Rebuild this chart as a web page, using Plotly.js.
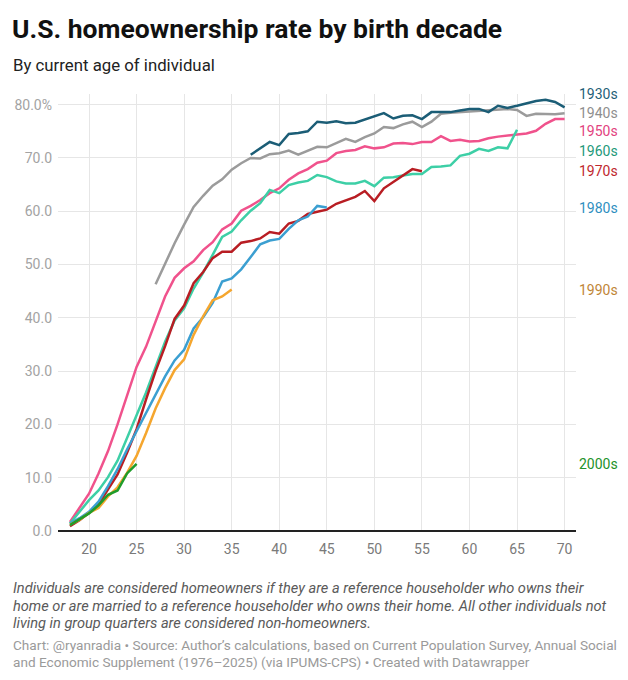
<!DOCTYPE html>
<html>
<head>
<meta charset="utf-8">
<script src="https://cdn.plot.ly/plotly-3.0.1.min.js"></script>
<style>
  html, body { margin: 0; padding: 0; background: #fff; }
  #chart { width: 628px; height: 680px; }
</style>
</head>
<body>
<div id="chart"></div>
<script>
// ---- Data ----
const seriesNames = ["1930s", "1940s", "1950s", "1960s", "1970s", "1980s", "1990s", "2000s"];
const startAge = { "1930s": 37, "1940s": 27, "1950s": 18, "1960s": 18, "1970s": 18, "1980s": 18, "1990s": 18, "2000s": 18 };

const rate1930s = [70.6, 71.8, 73.0, 72.4, 74.5, 74.7, 75.0, 76.8, 76.6, 76.9, 76.5, 76.6, 77.2, 77.9, 78.4, 77.4, 77.9, 78.0, 77.3, 78.6, 78.6, 78.6, 78.9, 79.2, 79.2, 78.6, 79.8, 79.4, 79.8, 80.2, 80.7, 80.9, 80.5, 79.5];
const rate1940s = [46.3, 50.3, 54.0, 57.5, 60.8, 62.9, 64.8, 66.0, 67.8, 69.0, 70.0, 69.9, 70.7, 70.9, 71.4, 70.6, 71.4, 72.1, 72.0, 72.8, 73.6, 73.0, 73.9, 74.6, 75.8, 75.6, 76.3, 76.8, 75.8, 76.8, 78.3, 78.5, 78.6, 78.8, 78.9, 79.0, 79.1, 79.2, 79.0, 77.9, 78.3, 78.2, 78.2, 78.4];
const rate1950s = [1.7, 4.3, 7.0, 10.8, 15.0, 20.0, 25.5, 30.8, 34.6, 39.5, 44.0, 47.5, 49.3, 50.6, 52.7, 54.2, 56.6, 57.7, 60.1, 61.0, 62.1, 63.4, 64.3, 65.9, 67.1, 67.9, 69.1, 69.5, 70.9, 71.3, 71.5, 72.2, 71.8, 72.0, 72.7, 72.8, 72.6, 73.0, 73.0, 74.1, 73.2, 73.4, 73.1, 73.2, 73.7, 74.0, 74.2, 74.3, 74.6, 75.1, 76.4, 77.3, 77.3];
const rate1960s = [1.4, 3.6, 5.8, 7.6, 10.1, 13.2, 17.6, 21.7, 26.0, 30.8, 35.5, 39.5, 41.8, 45.5, 48.5, 51.8, 55.2, 56.2, 58.3, 60.1, 61.5, 64.0, 63.4, 64.9, 65.4, 65.7, 66.8, 66.4, 65.6, 65.2, 65.2, 65.7, 64.7, 66.3, 66.4, 66.7, 67.0, 67.0, 68.3, 68.4, 68.6, 70.4, 70.8, 71.7, 71.3, 72.0, 71.8, 75.3];
const rate1970s = [0.9, 2.0, 3.4, 5.0, 7.8, 10.6, 14.7, 19.1, 24.7, 30.0, 34.7, 39.8, 42.3, 46.5, 48.6, 51.2, 52.4, 52.4, 54.1, 54.4, 54.9, 56.1, 55.8, 57.7, 58.2, 59.5, 59.9, 60.3, 61.4, 62.1, 62.7, 63.8, 61.9, 64.3, 65.5, 66.6, 67.9, 67.5];
const rate1980s = [1.4, 2.4, 3.6, 5.5, 8.4, 11.6, 15.3, 18.8, 22.0, 25.6, 29.0, 32.0, 34.0, 38.0, 40.1, 42.8, 46.8, 47.4, 49.1, 51.4, 53.8, 54.5, 54.8, 56.7, 58.3, 59.0, 61.0, 60.7];
const rate1990s = [1.2, 2.1, 3.4, 4.3, 6.5, 8.2, 10.9, 14.1, 18.4, 23.0, 26.8, 30.2, 32.2, 36.8, 40.3, 43.3, 44.0, 45.3];
const rate2000s = [1.1, 2.2, 3.3, 4.8, 6.8, 7.6, 10.8, 12.6];

const xTickVals = [20, 25, 30, 35, 40, 45, 50, 55, 60, 65, 70];
const yTickVals = [0, 10, 20, 30, 40, 50, 60, 70, 80];
const yTickText = ["0.0", "10.0", "20.0", "30.0", "40.0", "50.0", "60.0", "70.0", "80.0%"];

const titleText = "U.S. homeownership rate by birth decade";
const subtitleText = "By current age of individual";
const noteLines = [
  "Individuals are considered homeowners if they are a reference householder who owns their",
  "home or are married to a reference householder who owns their home. All other individuals not",
  "living in group quarters are considered non-homeowners."
];
const creditLines = [
  "Chart: @ryanradia • Source: Author’s calculations, based on Current Population Survey, Annual Social",
  "and Economic Supplement (1976–2025) (via IPUMS-CPS) • Created with Datawrapper"
];

// ---- Styles ----
const rates = { "1930s": rate1930s, "1940s": rate1940s, "1950s": rate1950s, "1960s": rate1960s,
                "1970s": rate1970s, "1980s": rate1980s, "1990s": rate1990s, "2000s": rate2000s };
const lineColor = { "1930s": "#1b5d76", "1940s": "#9b9b9b", "1950s": "#f0528c", "1960s": "#3dcfa6",
                    "1970s": "#b81d23", "1980s": "#3b9fd1", "1990s": "#f5a62e", "2000s": "#1f9c2a" };
const labelColor = { "1930s": "#1f5f78", "1940s": "#8e8e8e", "1950s": "#e2427e", "1960s": "#23997a",
                     "1970s": "#c0282e", "1980s": "#2f8fbf", "1990s": "#bf8638", "2000s": "#23922b" };
// label vertical positions (in axis units, de-overlapped like the reference)
const labelPos = { "1930s": 82.0, "1940s": 78.5, "1950s": 75.1, "1960s": 71.3,
                   "1970s": 67.6, "1980s": 60.7, "1990s": 45.2, "2000s": 12.6 };

const drawOrder = ["1940s", "1930s", "1950s", "1960s", "1970s", "1980s", "1990s", "2000s"];

const traces = drawOrder.map(name => {
  const ys = rates[name];
  const xs = ys.map((_, i) => startAge[name] + i);
  return {
    type: "scatter", mode: "lines", name: name,
    x: xs, y: ys,
    line: { color: lineColor[name], width: 2.5 },
    hoverinfo: "skip", cliponaxis: false
  };
});

// pixel helpers for text placed outside the plot area
const L = 58, R = 576, T = 94, B = 531;
const px = v => (v - L) / (R - L);
const py = v => (B - v) / (B - T);

const FONT = "Roboto, 'Open Sans', sans-serif";

const annotations = seriesNames.map(name => ({
  xref: "paper", yref: "y", x: 1, y: labelPos[name],
  xanchor: "left", yanchor: "middle", xshift: 1,
  text: name, showarrow: false,
  font: { family: FONT, size: 14, color: labelColor[name] }
}));

annotations.push({
  xref: "paper", yref: "paper", x: px(10), y: py(29), xanchor: "left", yanchor: "middle",
  text: "<b>" + titleText + "</b>", showarrow: false,
  font: { family: FONT, size: 26.5, color: "#111" }
});
annotations.push({
  xref: "paper", yref: "paper", x: px(11), y: py(65), xanchor: "left", yanchor: "middle",
  text: subtitleText, showarrow: false,
  font: { family: FONT, size: 16.8, color: "#222" }
});
const noteY = [588, 605.5, 623];
noteLines.forEach((t, i) => annotations.push({
  xref: "paper", yref: "paper", x: px(11), y: py(noteY[i]), xanchor: "left", yanchor: "middle",
  showarrow: false, text: "<i>" + t + "</i>",
  font: { family: FONT, size: 14.6, color: "#5a5a5a" }
}));
const creditY = [645, 662];
creditLines.forEach((t, i) => annotations.push({
  xref: "paper", yref: "paper", x: px(11), y: py(creditY[i]), xanchor: "left", yanchor: "middle",
  showarrow: false, text: t,
  font: { family: FONT, size: 13.6, color: "#9a9a9a" }
}));

const layout = {
  width: 628, height: 680,
  margin: { l: L, r: 628 - R, t: T, b: 680 - B, pad: 0 },
  paper_bgcolor: "#fff", plot_bgcolor: "#fff",
  showlegend: false,
  font: { family: FONT },
  xaxis: {
    range: [16.74, 71.2], tickvals: xTickVals, ticktext: xTickVals.map(String),
    showgrid: true, gridcolor: "#e6e6e6", gridwidth: 1,
    zeroline: false, showline: false, ticks: "",
    ticklabelstandoff: 8,
    tickfont: { family: FONT, size: 14, color: "#7a7a7a" }, fixedrange: true
  },
  yaxis: {
    range: [0, 82], tickvals: yTickVals, ticktext: yTickText,
    showgrid: true, gridcolor: "#e6e6e6", gridwidth: 1,
    zeroline: true, zerolinecolor: "#222", zerolinewidth: 1.5,
    showline: false, ticks: "", ticklabelstandoff: 5,
    tickfont: { family: FONT, size: 14, color: "#a3a3a3" }, fixedrange: true
  },
  annotations: annotations
};

Plotly.newPlot("chart", traces, layout, { displayModeBar: false, staticPlot: true });
</script>
</body>
</html>
